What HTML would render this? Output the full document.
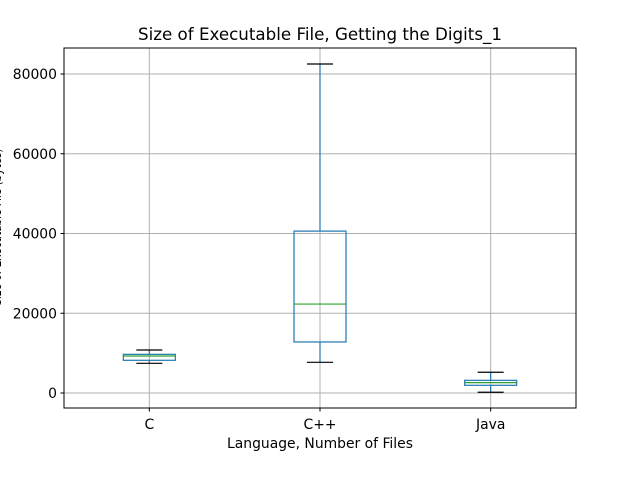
<!DOCTYPE html>
<html><head><meta charset="utf-8"><style>body{margin:0;background:#fff}svg{display:block;font-family:"DejaVu Sans","Liberation Sans",sans-serif}</style></head>
<body>
<svg id="chart" width="640" height="480" xmlns="http://www.w3.org/2000/svg">
<rect x="0" y="0" width="640" height="480" fill="#fff"/>
<g id="grid"></g><g id="boxes"></g><g id="axes"></g>
<text x="320" y="40" font-size="16.7" text-anchor="middle">Size of Executable File, Getting the Digits_1</text>
<text x="320" y="448" font-size="13.9" text-anchor="middle">Language, Number of Files</text>
<text x="0" y="0" font-size="13.9" text-anchor="middle" textLength="157" lengthAdjust="spacingAndGlyphs" transform="translate(1 227) rotate(-90)">Size of Executable File (bytes)</text>
</svg>
<script>
const categories=["C","C++","Java"];
const whiskLow=[7450,7700,180];
const q1=[8200,12800,1930];
const medians=[9280,22300,2600];
const q3=[9700,40600,3180];
const whiskHigh=[10780,82500,5200];
const yTicks=[0,20000,40000,60000,80000];
const L=64,R=576,T=48,B=408;
const x=i=>L+(i+0.5)*(R-L)/categories.length;
const y=v=>393-v*319/80000;
const ns="http://www.w3.org/2000/svg";
function mk(p,t,a){const e=document.createElementNS(ns,t);for(const k in a)e.setAttribute(k,a[k]);p.appendChild(e);return e;}
const grid=document.getElementById('grid'),boxes=document.getElementById('boxes'),axes=document.getElementById('axes');
yTicks.forEach(v=>{
 const g=mk(grid,'line',{x1:L,x2:R,y1:y(v),y2:y(v),stroke:'#b0b0b0','stroke-width':1});
 
 
 mk(axes,'line',{x1:L-3.5,x2:L,y1:y(v),y2:y(v),stroke:'#000'});
 const t=mk(axes,'text',{x:L-7,y:y(v)+5,'font-size':13.9,'text-anchor':'end'});t.textContent=v;
 
 
});
categories.forEach((c,i)=>{
 const cx=x(i);
 const g=mk(grid,'line',{x1:cx,x2:cx,y1:T,y2:B,stroke:'#b0b0b0','stroke-width':1});
 
 
 const grp=mk(boxes,'g',{});
 
 
 const bw=52,cw=26;
 mk(grp,'line',{x1:cx,x2:cx,y1:y(q3[i]),y2:y(whiskHigh[i]),stroke:'#1f77b4','stroke-width':1.2});
 mk(grp,'line',{x1:cx,x2:cx,y1:y(q1[i]),y2:y(whiskLow[i]),stroke:'#1f77b4','stroke-width':1.2});
 mk(grp,'rect',{x:cx-bw/2,y:y(q3[i]),width:bw,height:y(q1[i])-y(q3[i]),fill:'none',stroke:'#1f77b4','stroke-width':1.2});
 mk(grp,'line',{x1:cx-bw/2,x2:cx+bw/2,y1:y(medians[i]),y2:y(medians[i]),stroke:'#2ca02c','stroke-width':1.2});
 mk(grp,'line',{x1:cx-cw/2,x2:cx+cw/2,y1:y(whiskHigh[i]),y2:y(whiskHigh[i]),stroke:'#000','stroke-width':1.2});
 mk(grp,'line',{x1:cx-cw/2,x2:cx+cw/2,y1:y(whiskLow[i]),y2:y(whiskLow[i]),stroke:'#000','stroke-width':1.2});
 mk(axes,'line',{x1:cx,x2:cx,y1:B,y2:B+3.5,stroke:'#000'});
 const t=mk(axes,'text',{x:cx,y:B+21,'font-size':13.9,'text-anchor':'middle'});t.textContent=c;
 
 
});
const fr=mk(axes,'rect',{x:L,y:T,width:R-L,height:B-T,fill:'none',stroke:'#000','stroke-width':1});


</script>
</body></html>
